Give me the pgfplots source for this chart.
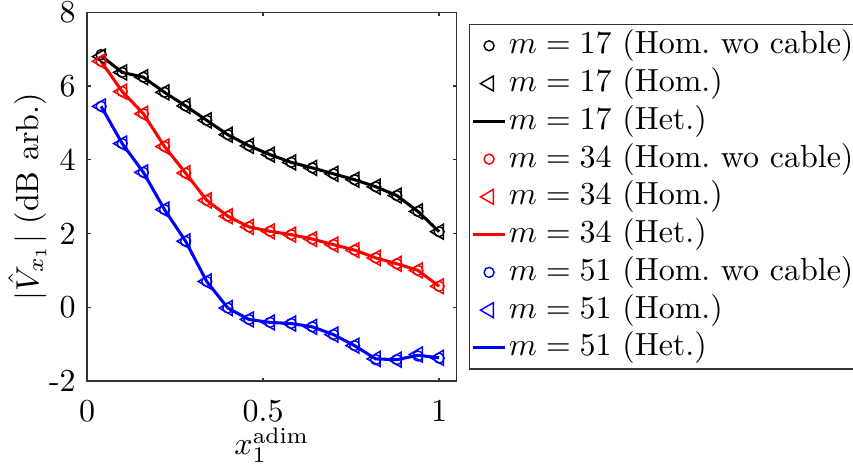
\documentclass[border=0pt]{standalone}
\usepackage{pgfplots}
\pgfplotsset{compat=1.18}
\usepackage{pgfplotstable}
\pgfplotstableread{
x a b c
0.04 6.85 6.80 6.82
0.10 6.37 6.37 6.37
0.16 6.24 6.24 6.24
0.22 5.83 5.83 5.83
0.28 5.46 5.46 5.46
0.34 5.07 5.07 5.07
0.40 4.68 4.68 4.68
0.46 4.38 4.38 4.38
0.52 4.14 4.14 4.14
0.58 3.93 3.93 3.93
0.64 3.78 3.78 3.78
0.70 3.62 3.62 3.62
0.76 3.46 3.46 3.46
0.82 3.27 3.27 3.27
0.88 3.03 3.03 3.03
0.94 2.60 2.60 2.60
1.00 2.05 2.05 2.05
}\dataA
\pgfplotstableread{
x a b c
0.04 6.67 6.67 6.67
0.10 5.85 5.85 5.85
0.16 5.25 5.25 5.25
0.22 4.36 4.36 4.36
0.28 3.64 3.64 3.64
0.34 2.90 2.90 2.90
0.40 2.47 2.47 2.47
0.46 2.18 2.18 2.18
0.52 2.06 2.06 2.06
0.58 1.97 1.97 1.97
0.64 1.85 1.85 1.85
0.70 1.70 1.70 1.70
0.76 1.55 1.55 1.55
0.82 1.34 1.34 1.34
0.88 1.18 1.18 1.18
0.94 1.00 1.00 1.00
1.00 0.57 0.57 0.57
}\dataB
\pgfplotstableread{
x a b c
0.04 5.45 5.45 5.45
0.10 4.44 4.44 4.44
0.16 3.66 3.66 3.66
0.22 2.65 2.65 2.65
0.28 1.79 1.79 1.79
0.34 0.70 0.70 0.70
0.40 -0.02 -0.02 -0.02
0.46 -0.33 -0.33 -0.33
0.52 -0.41 -0.41 -0.41
0.58 -0.44 -0.44 -0.44
0.64 -0.53 -0.53 -0.53
0.70 -0.74 -0.74 -0.74
0.76 -1.04 -1.04 -1.04
0.82 -1.42 -1.40 -1.40
0.88 -1.42 -1.42 -1.42
0.94 -1.32 -1.28 -1.30
1.00 -1.38 -1.37 -1.37
}\dataC
\begin{document}
\begin{tikzpicture}
\begin{axis}[
  name=ax,
  scale only axis,
  width=115.5pt, height=115.2pt,
  xmin=0, xmax=1.05, ymin=-2, ymax=8,
  xtick={0,0.5,1}, xticklabels={0,0.5,1},
  ytick={-2,0,2,4,6,8}, yticklabels={-2,0,2,4,6,8},
  tick align=inside, major tick length=1.1pt,
  axis line style={black!80, line width=0.4pt},
  tick style={black!80, line width=0.4pt},
  xticklabel style={yshift=-2.4pt},
  xlabel={$x_1^{\mathrm{adim}}$},
  ylabel={$|\hat{V}_{x_1}|$ (dB arb.)},
  every axis x label/.style={at={(axis description cs:0.5,0)}, anchor=base, yshift=-23.1pt, inner sep=0pt},
  every axis y label/.style={at={(axis description cs:0,0.5)}, xshift=-12.5pt, rotate=90, anchor=south, inner sep=0pt},
  legend cell align=left,
  legend style={at={(1,1)}, anchor=north west, xshift=3.84pt, yshift=-3.66pt,
    draw=black!80, line width=0.4pt, inner xsep=0.6pt, inner ysep=0.7pt,
    row sep=0pt, column sep=0pt,
    nodes={inner xsep=0.7pt, inner ysep=0.9pt, text height=7.5pt, text depth=2.5pt}},
  legend image code/.code={\draw[mark repeat=2,mark phase=2,#1] plot coordinates {(0pt,0pt) (5pt,0pt) (10pt,0pt)};},
  every axis plot/.append style={line width=0.4pt},
  circ/.style={only marks, mark=o, mark size=1.56pt, mark options={line width=0.45pt}},
  tri/.style={only marks, mark=triangle, mark size=2.7pt, mark options={rotate=90, line width=0.45pt}},
  het/.style={no marks, line width=0.95pt},
]
\addplot[black, circ] table[x=x,y=a] {\dataA};
\addlegendentry{$m = 17$ (Hom.\ wo cable)}
\addplot[black, tri] table[x=x,y=b] {\dataA};
\addlegendentry{$m = 17$ (Hom.)}
\addplot[black, het] table[x=x,y=c] {\dataA};
\addlegendentry{$m = 17$ (Het.)}
\addplot[red, circ] table[x=x,y=a] {\dataB};
\addlegendentry{$m = 34$ (Hom.\ wo cable)}
\addplot[red, tri] table[x=x,y=b] {\dataB};
\addlegendentry{$m = 34$ (Hom.)}
\addplot[red, het] table[x=x,y=c] {\dataB};
\addlegendentry{$m = 34$ (Het.)}
\addplot[blue, circ] table[x=x,y=a] {\dataC};
\addlegendentry{$m = 51$ (Hom.\ wo cable)}
\addplot[blue, tri] table[x=x,y=b] {\dataC};
\addlegendentry{$m = 51$ (Hom.)}
\addplot[blue, het] table[x=x,y=c] {\dataC};
\addlegendentry{$m = 51$ (Het.)}
\end{axis}
\pgfresetboundingbox
\path[use as bounding box] ([shift={(-27.19pt,-27.19pt)}]ax.south west) rectangle ([shift={(123.8pt,3.84pt)}]ax.north east);
\end{tikzpicture}
\end{document}
